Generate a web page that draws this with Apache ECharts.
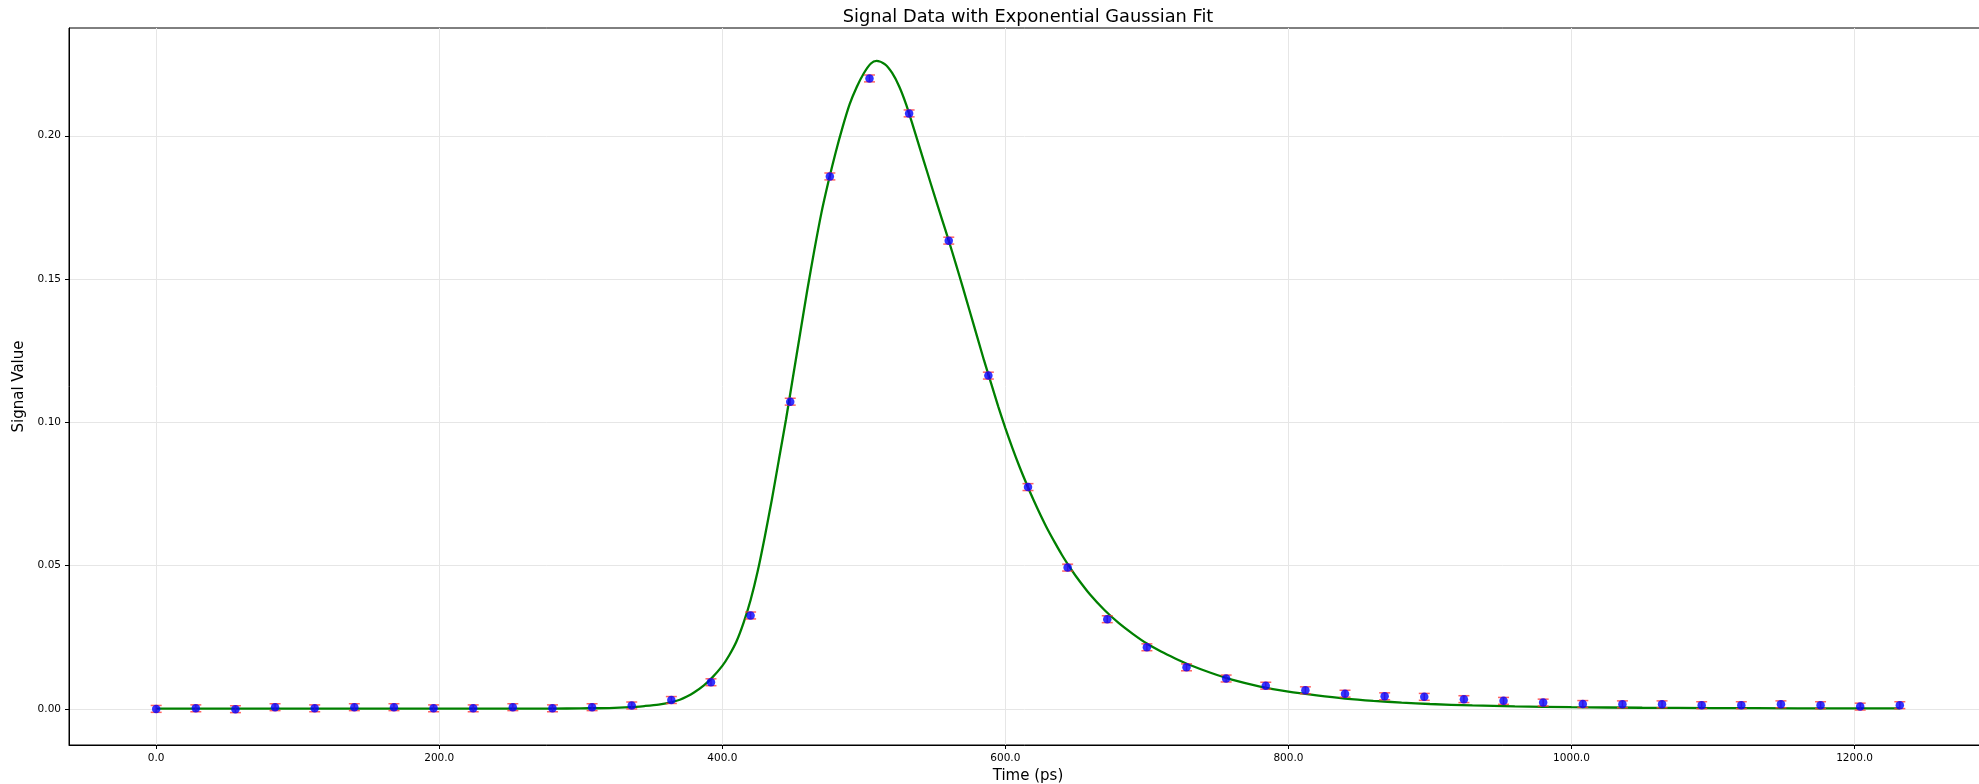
<!DOCTYPE html>
<html>
<head>
<meta charset="utf-8">
<script src="https://cdn.jsdelivr.net/npm/echarts@6/dist/echarts.min.js"></script>
<style>
html,body{margin:0;padding:0;background:#fff;}
#chart{width:1979px;height:784px;}
</style>
</head>
<body>
<div id="chart"></div>
<script>
// Measured data points (time in ps, signal value)
const timePs = [0,28,56,84,112,140,168,196,224,252,280,308,336,364,392,420,448,476,504,532,560,588,616,644,672,700,728,756,784,812,840,868,896,924,952,980,1008,1036,1064,1092,1120,1148,1176,1204,1232];
const signal = [0.0000,0.0002,-0.0001,0.0006,0.0002,0.0006,0.0006,0.0002,0.0002,0.0006,0.0002,0.0006,0.0012,0.0031,0.0093,0.0326,0.1072,0.1858,0.2200,0.2078,0.1634,0.1163,0.0774,0.0493,0.0313,0.0215,0.0145,0.0106,0.0081,0.0065,0.0053,0.0044,0.0042,0.0034,0.0028,0.0022,0.0017,0.0016,0.0016,0.0013,0.0013,0.0016,0.0013,0.0008,0.0013];
const signalErr = [0.0012,0.0012,0.0012,0.0012,0.0012,0.0012,0.0012,0.0012,0.0012,0.0012,0.0012,0.0012,0.0012,0.0012,0.0012,0.0012,0.0012,0.0012,0.0012,0.0012,0.0012,0.0012,0.0012,0.0012,0.0012,0.0012,0.0012,0.0012,0.0012,0.0012,0.0012,0.0012,0.0012,0.0012,0.0012,0.0012,0.0012,0.0012,0.0012,0.0012,0.0012,0.0012,0.0012,0.0012,0.0012];

// Fit curve
const fitX = [0,100,200,280,300,320,335,345,355,363,370,375,380,387,393,400,405,410,415,420,425,430,435,440,445,450,455,460,465,470,475,480,485,490,495,500,505,509,515,520,525,530,535,540,545,550,555,560,565,570,575,580,585,590,595,600,605,610,615,620,625,630,635,640,645,650,660,670,680,690,700,710,720,730,745,760,780,800,820,840,860,880,900,930,960,1000,1050,1100,1160,1232];
const fitY = [0.0001,0.0001,0.0001,0.0001,0.0002,0.0003,0.0006,0.0010,0.0015,0.0022,0.0032,0.0043,0.0057,0.0082,0.0110,0.0150,0.0188,0.0235,0.0300,0.0380,0.0480,0.0600,0.0730,0.0870,0.1010,0.1160,0.1310,0.1460,0.1600,0.1730,0.1840,0.1940,0.2030,0.2110,0.2170,0.2218,0.2252,0.2261,0.2249,0.2219,0.2172,0.2108,0.2030,0.1950,0.1870,0.1790,0.1712,0.1634,0.1553,0.1470,0.1385,0.1300,0.1215,0.1135,0.1055,0.0980,0.0910,0.0845,0.0785,0.0728,0.0675,0.0625,0.0580,0.0537,0.0498,0.0462,0.0398,0.0345,0.0300,0.0262,0.0228,0.0200,0.0176,0.0154,0.0126,0.0102,0.0078,0.0060,0.0047,0.0036,0.0028,0.0022,0.0017,0.0012,0.0009,0.0006,0.0004,0.0003,0.0002,0.0002];

const xTicks = [0,200,400,600,800,1000,1200];
const yTicks = [0,0.05,0.10,0.15,0.20];

const titleText = 'Signal Data with Exponential Gaussian Fit';
const xName = 'Time (ps)';
const yName = 'Signal Value';

const FONT = 'DejaVu Sans';
const pts = timePs.map((t, i) => [t, signal[i]]);
const errs = timePs.map((t, i) => [t, signal[i], signalErr[i]]);
const fit = fitX.map((t, i) => [t, fitY[i]]);

const chart = echarts.init(document.getElementById('chart'), null, {renderer: 'canvas'});
chart.setOption({
  animation: false,
  backgroundColor: '#fff',
  title: {
    text: titleText,
    left: 1028,
    top: 8,
    padding: 0,
    textAlign: 'center',
    textStyle: {fontFamily: FONT, fontSize: 17.8, fontWeight: 'normal', color: '#000'}
  },
  grid: {
    left: 69, top: 28, right: -8, bottom: 39,
    containLabel: false,
    outerBoundsMode: 'none',
    show: true, borderColor: '#000', borderWidth: 1, backgroundColor: 'transparent'
  },
  xAxis: {
    type: 'value',
    min: -61.6, max: 1293.6,
    name: xName,
    nameLocation: 'middle',
    nameGap: 21,
    nameTextStyle: {fontFamily: FONT, fontSize: 15, color: '#000'},
    axisLine: {show: true, onZero: false, lineStyle: {color: '#000', width: 1}},
    axisTick: {show: true, inside: false, length: 4, customValues: xTicks, lineStyle: {color: '#000', width: 1}},
    axisLabel: {show: true, customValues: xTicks, margin: 8, fontFamily: FONT, fontSize: 10.5, color: '#000',
      formatter: v => Number(v).toFixed(1)},
    splitLine: {show: true, lineStyle: {color: '#e6e6e6', width: 1}}
  },
  yAxis: {
    type: 'value',
    min: -0.0126, max: 0.2376,
    name: yName,
    nameLocation: 'middle',
    nameGap: 33,
    nameRotate: 90,
    nameTextStyle: {fontFamily: FONT, fontSize: 15, color: '#000'},
    axisLine: {show: true, onZero: false, lineStyle: {color: '#000', width: 1}},
    axisTick: {show: true, inside: false, length: 4, customValues: yTicks, lineStyle: {color: '#000', width: 1}},
    axisLabel: {show: true, customValues: yTicks, margin: 8, fontFamily: FONT, fontSize: 10.5, color: '#000',
      formatter: v => Number(v).toFixed(2)},
    splitLine: {show: true, lineStyle: {color: '#e6e6e6', width: 1}}
  },
  series: [
    {
      type: 'line',
      data: fit,
      showSymbol: false,
      smooth: 0.25,
      lineStyle: {color: '#008000', width: 2.3},
      z: 2
    },
    {
      type: 'custom',
      data: errs,
      z: 3,
      renderItem: function (params, api) {
        const x = api.value(0), y = api.value(1), e = api.value(2);
        const lo = api.coord([x, y - e]);
        const hi = api.coord([x, y + e]);
        const hw = 5.5;
        const style = {stroke: '#ff3a3a', lineWidth: 1.5, opacity: 0.8};
        return {
          type: 'group',
          children: [
            {type: 'line', shape: {x1: lo[0], y1: lo[1], x2: hi[0], y2: hi[1]}, style: style},
            {type: 'line', shape: {x1: lo[0] - hw, y1: lo[1], x2: lo[0] + hw, y2: lo[1]}, style: style},
            {type: 'line', shape: {x1: hi[0] - hw, y1: hi[1], x2: hi[0] + hw, y2: hi[1]}, style: style}
          ]
        };
      }
    },
    {
      type: 'scatter',
      data: pts,
      symbol: 'circle',
      symbolSize: 8.5,
      itemStyle: {color: '#0000ff'},
      z: 4
    }
  ]
});
</script>
</body>
</html>
